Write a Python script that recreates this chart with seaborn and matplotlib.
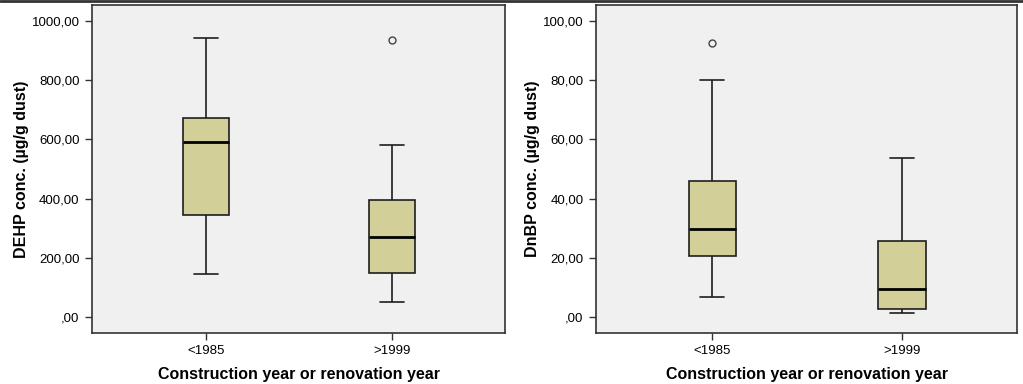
import pandas as pd
import numpy as np
import seaborn as sns
import matplotlib.pyplot as plt
from matplotlib.ticker import FuncFormatter, MultipleLocator
from matplotlib.lines import Line2D

# categories on the x axis
groups = ["<1985", ">1999"]

# five-number summaries: low whisker, Q1, median, Q3, high whisker
dehp_low = [145, 52]
dehp_q1 = [345, 150]
dehp_med = [591, 270]
dehp_q3 = [672, 395]
dehp_high = [943, 581]
dehp_out = [[], [936]]

dnbp_low = [6.6, 1.35]
dnbp_q1 = [20.6, 2.7]
dnbp_med = [29.7, 9.5]
dnbp_q3 = [46.0, 25.7]
dnbp_high = [80.1, 53.7]
dnbp_out = [[92.6], []]


def build_table(low, q1, med, q3, high, out, rep=10):
    # repeat quartile values so that seaborn's quantiles land exactly on them
    rows = []
    for i, g in enumerate(groups):
        vals = [low[i]] + [q1[i]] * rep + [med[i]] * rep + [q3[i]] * rep + [high[i]] + list(out[i])
        rows += [(g, v) for v in vals]
    return pd.DataFrame(rows, columns=["group", "value"])


def comma_fmt(v, pos):
    if abs(v) < 1e-9:
        return ",00"
    return f"{v:.2f}".replace(".", ",")


sns.set_theme(style="white")
plt.rcParams["font.family"] = ["Liberation Sans", "DejaVu Sans"]

fig = plt.figure(figsize=(10.23, 3.84), dpi=100)
ax1 = fig.add_axes([92 / 1023, 51 / 384, 413 / 1023, 328 / 384])
ax2 = fig.add_axes([596 / 1023, 51 / 384, 421 / 1023, 328 / 384])

box_kws = dict(
    x="group", y="value", order=groups, width=0.25, color="#D3CF98",
    saturation=1, linecolor="#1e1e1e", linewidth=1.2,
    medianprops=dict(color="black", linewidth=2),
    flierprops=dict(marker="o", markersize=5, markerfacecolor="none",
                    markeredgecolor="#444444", markeredgewidth=1),
)

panels = [
    (ax1, build_table(dehp_low, dehp_q1, dehp_med, dehp_q3, dehp_high, dehp_out),
     "DEHP conc. (µg/g dust)", (-54, 1054), 200),
    (ax2, build_table(dnbp_low, dnbp_q1, dnbp_med, dnbp_q3, dnbp_high, dnbp_out),
     "DnBP conc. (µg/g dust)", (-5.4, 105.4), 20),
]

for ax, df, ylab, ylim, step in panels:
    sns.boxplot(data=df, ax=ax, **box_kws)
    ax.set_facecolor("#F0F0F0")
    ax.set_xlim(-0.613, 1.607)
    ax.set_ylim(*ylim)
    ax.yaxis.set_major_locator(MultipleLocator(step))
    ax.yaxis.set_major_formatter(FuncFormatter(comma_fmt))
    ax.set_ylabel(ylab, fontsize=11.5, fontweight="bold", color="black", labelpad=2)
    ax.set_xlabel("Construction year or renovation year", fontsize=11.5,
                  fontweight="bold", color="black", labelpad=7)
    for s in ax.spines.values():
        s.set_color("#333333")
        s.set_linewidth(1.2)
    ax.tick_params(axis="both", direction="out", length=5, width=1,
                   color="#333333", labelsize=9.5, labelcolor="black",
                   left=True, bottom=True, pad=4)

# dark border line along the top edge of the image
fig.add_artist(Line2D([0, 1], [0.997, 0.997], transform=fig.transFigure,
                      color="#333333", linewidth=2))

fig.savefig("out.png", dpi=100, facecolor="white")
